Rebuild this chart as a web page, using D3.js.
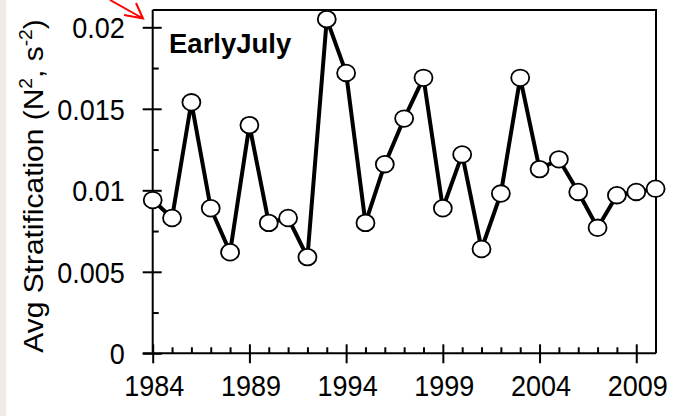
<!DOCTYPE html>
<html>
<head>
<meta charset="utf-8">
<script src="https://cdn.jsdelivr.net/npm/d3@7"></script>
<style>
  html, body { margin: 0; padding: 0; background: #fff; }
  svg { display: block; }
  text { font-family: "Liberation Sans", Arial, sans-serif; fill: #000; }
</style>
</head>
<body>
<script>
const width = 682;
const height = 416;

// data
const years = [1984, 1985, 1986, 1987, 1988, 1989, 1990, 1991, 1992, 1993,
               1994, 1995, 1996, 1997, 1998, 1999, 2000, 2001, 2002, 2003,
               2004, 2005, 2006, 2007, 2008, 2009, 2010];
const strat = [0.0094, 0.0083, 0.0154, 0.0089, 0.0062, 0.0140, 0.0080, 0.0083, 0.0059, 0.0205,
               0.0172, 0.0080, 0.0116, 0.0144, 0.0169, 0.0089, 0.0122, 0.0064, 0.0098, 0.0169,
               0.0113, 0.0119, 0.0099, 0.0077, 0.0097, 0.0099, 0.0101];
const xTicks = [1984, 1989, 1994, 1999, 2004, 2009];
const yTicks = [0, 0.005, 0.01, 0.015, 0.02];
const yTickLabels = ["0", "0.005", "0.01", "0.015", "0.02"];
const panelLabel = "EarlyJuly";

const plotL = 152.7, plotR = 656, plotT = 10, plotB = 353.3;
const stretch = 1.1; // text in the picture is a bit taller than wide

const svg = d3.select("body")
    .append("svg")
    .attr("width", width)
    .attr("height", height);

// beige strip on the left edge
svg.append("rect")
    .attr("x", 0).attr("y", 0)
    .attr("width", 6).attr("height", height)
    .attr("fill", "#eeece4");

const xScale = d3.scaleLinear()
    .domain([1984, 2010])
    .range([plotL, 655.6]);

const yScale = d3.scaleLinear()
    .domain([0, 0.02])
    .range([plotB, 27.3]);

// frame (top + right)
svg.append("path")
    .attr("d", `M${plotL},${plotT}H${plotR}V${plotB}`)
    .attr("fill", "none")
    .attr("stroke", "#000")
    .attr("stroke-width", 2);

// y axis: labels + outward major ticks
const yAxis = svg.append("g")
    .attr("transform", `translate(${plotL},0)`)
    .call(d3.axisLeft(yScale)
        .tickValues(yTicks)
        .tickSize(10)
        .tickFormat((d, i) => yTickLabels[i]));
yAxis.select(".domain").attr("d", `M0,${plotT}V${plotB}`).attr("stroke-width", 2);
yAxis.selectAll(".tick line").attr("stroke-width", 2);
yAxis.selectAll(".tick text")
    .attr("x", null).attr("y", null).attr("dy", null)
    .attr("transform", `translate(-28,10.5) scale(1,${stretch})`)
    .attr("font-size", 27)
    .attr("font-family", null);

// y inward ticks
svg.append("g")
    .attr("transform", `translate(${plotL},0)`)
    .call(d3.axisRight(yScale).tickValues(yTicks).tickSize(9).tickFormat(""))
    .call(g => g.select(".domain").remove())
    .selectAll(".tick line").attr("stroke-width", 2);
svg.append("g")
    .attr("transform", `translate(${plotL},0)`)
    .call(d3.axisRight(yScale).tickValues([0.0025, 0.0075, 0.0125, 0.0175]).tickSize(6).tickFormat(""))
    .call(g => g.select(".domain").remove())
    .selectAll(".tick line").attr("stroke-width", 2);

// x axis: labels + outward major ticks
const xAxis = svg.append("g")
    .attr("transform", `translate(0,${plotB})`)
    .call(d3.axisBottom(xScale)
        .tickValues(xTicks)
        .tickSize(10)
        .tickFormat(d3.format("d")));
xAxis.select(".domain").attr("d", `M${plotL - 10},0H${plotR}`).attr("stroke-width", 2);
xAxis.selectAll(".tick line").attr("stroke-width", 2);
xAxis.selectAll(".tick text")
    .attr("y", null).attr("dy", null)
    .attr("transform", `translate(1,42.5) scale(1,${stretch})`)
    .attr("font-size", 27)
    .attr("font-family", null);

// x inward ticks
svg.append("g")
    .attr("transform", `translate(0,${plotB})`)
    .call(d3.axisTop(xScale).tickValues(xTicks).tickSize(9).tickFormat(""))
    .call(g => g.select(".domain").remove())
    .selectAll(".tick line").attr("stroke-width", 2);
svg.append("g")
    .attr("transform", `translate(0,${plotB})`)
    .call(d3.axisTop(xScale).tickValues(d3.range(1985, 2010).filter(y => !xTicks.includes(y))).tickSize(6).tickFormat(""))
    .call(g => g.select(".domain").remove())
    .selectAll(".tick line").attr("stroke-width", 2);

// y axis title
const yTitle = svg.append("text")
    .attr("transform", `translate(43,186) scale(1,1.07) rotate(-90)`)
    .attr("text-anchor", "middle")
    .attr("font-size", 28);
yTitle.append("tspan").text("Avg Stratification (N");
yTitle.append("tspan").attr("font-size", 18).attr("dy", -11).text("2");
yTitle.append("tspan").attr("dy", 11).text(", s");
yTitle.append("tspan").attr("font-size", 18).attr("dy", -11).text("-2");
yTitle.append("tspan").attr("dy", 11).text(")");

// panel label
svg.append("text")
    .attr("x", 169)
    .attr("y", 52.7)
    .attr("font-size", 27.5)
    .attr("font-weight", "bold")
    .text(panelLabel);

const pts = years.map((y, i) => ({ x: y, y: strat[i] }));

const line = d3.line()
    .x(d => xScale(d.x))
    .y(d => yScale(d.y));

svg.append("path")
    .datum(pts)
    .attr("d", line)
    .attr("fill", "none")
    .attr("stroke", "#000")
    .attr("stroke-width", 4)
    .attr("stroke-linejoin", "round");

svg.selectAll("ellipse.pt")
    .data(pts)
    .join("ellipse")
    .attr("class", "pt")
    .attr("cx", d => xScale(d.x))
    .attr("cy", d => yScale(d.y))
    .attr("rx", 9)
    .attr("ry", 8.3)
    .attr("fill", "#fff")
    .attr("stroke", "#000")
    .attr("stroke-width", 1.8);

// red arrow top-left
svg.append("path")
    .attr("d", "M110,0L143,18.5M124,15L143,18.5L136,3")
    .attr("fill", "none")
    .attr("stroke", "#ff0000")
    .attr("stroke-width", 2);
</script>
</body>
</html>
